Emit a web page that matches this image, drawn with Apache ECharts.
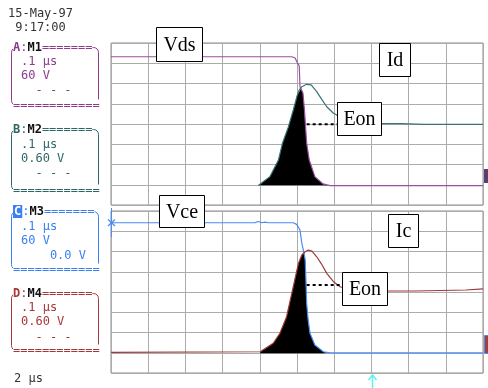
<!DOCTYPE html>
<html>
<head>
<meta charset="utf-8">
<script src="https://cdn.jsdelivr.net/npm/echarts@6/dist/echarts.min.js"></script>
<style>
html,body{margin:0;padding:0;background:#fff;}
#chart{width:488px;height:388px;}
</style>
</head>
<body>
<div id="chart"></div>
<script>
// Values in screen divisions (x: 0..10 time divisions, y: 0..8 vertical divisions)
const vds = [[0,7.32],[4.86,7.32],[4.95,7.26],[5.00,7.06],[5.06,6.86],[5.08,5.84],[5.16,5.53],[5.20,4.69],[5.23,3.87],[5.26,3.06],[5.33,2.22],[5.48,1.40],[5.70,1.04],[5.89,0.96],[10,0.96]];
const id = [[3.96,0.96],[4.27,1.40],[4.50,2.22],[4.61,3.05],[4.77,3.87],[4.90,4.69],[5.00,5.38],[5.06,5.68],[5.13,5.84],[5.26,5.96],[5.38,5.93],[5.53,5.60],[5.66,5.23],[5.80,4.85],[5.98,4.53],[6.07,4.44],[6.16,4.25],[6.42,4.05],[7.31,4.02],[7.80,4.02],[8.44,3.98],[10,3.98]];
const eonTop = [[3.96,0.96],[4.27,1.40],[4.50,2.22],[4.61,3.05],[4.77,3.87],[4.90,4.69],[5.00,5.38],[5.11,5.76],[5.16,5.53],[5.20,4.69],[5.23,3.87],[5.26,3.06],[5.33,2.22],[5.48,1.40],[5.70,1.04],[5.83,0.96]];
const eonTopLeader = [[5.26,3.99],[6.08,3.99]];

const vce = [[0,7.42],[3.87,7.42],[3.95,7.48],[4.06,7.42],[4.14,7.45],[4.22,7.42],[4.90,7.42],[4.99,7.34],[5.08,7.06],[5.13,6.40],[5.19,5.91],[5.22,5.58],[5.24,4.59],[5.26,3.44],[5.30,2.62],[5.35,1.96],[5.48,1.38],[5.71,1.05],[5.89,0.99],[10,0.99]];
const ic = [[0,1.02],[4.01,1.05],[4.36,1.47],[4.54,1.96],[4.72,2.78],[4.90,4.26],[5.04,5.42],[5.13,5.83],[5.22,5.99],[5.30,6.07],[5.40,6.02],[5.53,5.74],[5.66,5.38],[5.80,4.92],[5.98,4.51],[6.16,4.26],[6.42,4.10],[7.42,4.05],[8.17,4.05],[8.20,4.10],[9.54,4.10],[9.57,4.15],[10,4.15]];
const eonBottom = [[4.01,1.04],[4.36,1.47],[4.54,1.96],[4.72,2.78],[4.90,4.26],[5.04,5.42],[5.13,5.83],[5.19,5.95],[5.22,5.58],[5.24,4.59],[5.26,3.44],[5.30,2.62],[5.35,1.96],[5.48,1.38],[5.71,1.05],[5.83,0.99]];
const eonBottomLeader = [[5.26,4.35],[6.21,4.35]];

const channelLabels = [
  {ch:'A', m:'M1', lines:['.1 μs','60 V','  - - -']},
  {ch:'B', m:'M2', lines:['.1 μs','0.60 V','  - - -']},
  {ch:'C', m:'M3', lines:['.1 μs','60 V','    0.0 V']},
  {ch:'D', m:'M4', lines:['.1 μs','0.60 V','  - - -']}
];
const dateText = '15-May-97';
const timeText = ' 9:17:00';
const timebaseText = '2 μs';

const C = {
  purple:'#9a4f9e', teal:'#3b7373', blue:'#4a8cf5', red:'#a03a3a',
  chA:'#8e3a8e', chB:'#2e6767', chC:'#3a80f0', chD:'#a83838',
  grid:'#ababab', border:'#8c8c8c'
};

const chart = echarts.init(document.getElementById('chart'), null, {renderer:'canvas'});

function xAx(gi){return {type:'value',gridIndex:gi,min:0,max:10,interval:1,
  axisLine:{show:false},axisTick:{show:false},axisLabel:{show:false},
  splitLine:{show:true,lineStyle:{color:C.grid,width:1}}};}
function yAx(gi){return {type:'value',gridIndex:gi,min:0,max:8,interval:1,
  axisLine:{show:false},axisTick:{show:false},axisLabel:{show:false},
  splitLine:{show:true,lineStyle:{color:C.grid,width:1}}};}
function trace(data,color,gi,z){return {type:'line',data:data,xAxisIndex:gi,yAxisIndex:gi,
  showSymbol:false,symbol:'none',z:z||3,lineStyle:{color:color,width:1.2},silent:true};}
function fill(data,gi){return {type:'line',data:data,xAxisIndex:gi,yAxisIndex:gi,showSymbol:false,symbol:'none',z:2,
  lineStyle:{width:0},areaStyle:{color:'#000',opacity:1,origin:0.97},silent:true};}
function leader(data,gi){return {type:'line',data:data,xAxisIndex:gi,yAxisIndex:gi,showSymbol:false,symbol:'none',z:4,
  lineStyle:{color:'#000',width:2,type:[3,3]},silent:true};}

const serif = '20px "Liberation Serif", "Times New Roman", serif';
const mono = '"DejaVu Sans Mono", monospace';
function box(x1,y1,x2,y2,txt){
  return [
    {type:'rect',z:100,shape:{x:x1,y:y1,width:x2-x1,height:y2-y1},style:{fill:'#fff',stroke:'#000',lineWidth:1}},
    {type:'text',z:101,x:(x1+x2)/2,y:(y1+y2)/2+1,style:{text:txt,font:serif,fill:'#000',align:'center',verticalAlign:'middle'}}
  ];
}
function chanBox(info,color,top,bottom,lineYs,inverse){
  const els = [];
  els.push({type:'rect',z:100,shape:{x:11.5,y:top+0.5,width:87,height:bottom-top,r:5},style:{fill:'none',stroke:color,lineWidth:1}});
  els.push({type:'text',z:101,x:13,y:top+0.5,style:{
    text:'{a|'+info.ch+'}{c|:}{m|'+info.m+'}{e|=======}',verticalAlign:'middle',align:'left',backgroundColor:'#fff',
    rich:{
      a:{font:'bold 12px '+mono,fill:inverse?'#fff':color,backgroundColor:inverse?color:'transparent',padding:inverse?[1,1,0,1]:0},
      c:{font:'12px '+mono,fill:color},
      m:{font:'bold 12px '+mono,fill:'#111'},
      e:{font:'12px '+mono,fill:color}
    }}});
  info.lines.forEach((t,i)=>{
    els.push({type:'text',z:101,x:21,y:lineYs[i],style:{text:t,font:'12px '+mono,fill:color,verticalAlign:'middle',align:'left'}});
  });
  els.push({type:'text',z:101,x:13,y:bottom+0.5,style:{text:'============',font:'12px '+mono,fill:color,verticalAlign:'middle',align:'left',backgroundColor:'#fff'}});
  return els;
}

let graphics = [];
graphics = graphics.concat(box(156.5,27.5,202.5,61.5,'Vds'));
graphics = graphics.concat(box(379.5,43.5,410.5,76.5,'Id'));
graphics = graphics.concat(box(337.5,102.5,381.5,135.5,'Eon'));
graphics = graphics.concat(box(159.5,195.5,204.5,227.5,'Vce'));
graphics = graphics.concat(box(388.5,214.5,418.5,247.5,'Ic'));
graphics = graphics.concat(box(342.5,272.5,387.5,305.5,'Eon'));

graphics.push({type:'text',z:101,x:8,y:14,style:{text:dateText,font:'12px '+mono,fill:'#333',verticalAlign:'middle'}});
graphics.push({type:'text',z:101,x:8,y:28,style:{text:timeText,font:'12px '+mono,fill:'#333',verticalAlign:'middle'}});
graphics.push({type:'text',z:101,x:14,y:379,style:{text:timebaseText,font:'12px '+mono,fill:'#333',verticalAlign:'middle'}});

graphics = graphics.concat(chanBox(channelLabels[0],C.chA,47,105,[62,75.5,91]));
graphics = graphics.concat(chanBox(channelLabels[1],C.chB,129,190,[145,158.5,174]));
graphics = graphics.concat(chanBox(channelLabels[2],C.chC,211,269,[226.5,240.5,255.5],true));
graphics = graphics.concat(chanBox(channelLabels[3],C.chD,293,350,[308,322,338]));

// scope markers
graphics.push({type:'line',z:102,shape:{x1:111.5,y1:208,x2:111.5,y2:237},style:{stroke:C.blue,lineWidth:1}});
graphics.push({type:'line',z:102,shape:{x1:108,y1:219.5,x2:115,y2:226},style:{stroke:C.blue,lineWidth:1.2}});
graphics.push({type:'line',z:102,shape:{x1:108,y1:226,x2:115,y2:219.5},style:{stroke:C.blue,lineWidth:1.2}});
graphics.push({type:'line',z:102,shape:{x1:372.5,y1:375,x2:372.5,y2:388},style:{stroke:'#5ef2f2',lineWidth:1.5}});
graphics.push({type:'polyline',z:102,shape:{points:[[368.5,380],[372.5,375],[376.5,380]]},style:{stroke:'#5ef2f2',lineWidth:1.5,fill:'none'}});
graphics.push({type:'rect',z:102,shape:{x:484,y:169,width:5,height:14},style:{fill:'#5a3f6e'}});
graphics.push({type:'rect',z:102,shape:{x:484.5,y:335.5,width:5,height:18},style:{fill:'#a04040',stroke:C.blue,lineWidth:1}});

chart.setOption({
  animation:false,
  backgroundColor:'#fff',
  grid:[
    {left:111,top:43,width:372,height:162,show:true,borderColor:C.border,borderWidth:1,backgroundColor:'transparent'},
    {left:111,top:211,width:372,height:162,show:true,borderColor:C.border,borderWidth:1,backgroundColor:'transparent'}
  ],
  xAxis:[xAx(0),xAx(1)],
  yAxis:[yAx(0),yAx(1)],
  series:[
    fill(eonTop,0),
    trace(vds,C.purple,0,3),
    trace(id,C.teal,0,3),
    leader(eonTopLeader,0),
    fill(eonBottom,1),
    trace(vce,C.blue,1,3),
    trace(ic,C.red,1,3),
    leader(eonBottomLeader,1)
  ],
  graphic:{elements:graphics}
});
</script>
</body>
</html>
